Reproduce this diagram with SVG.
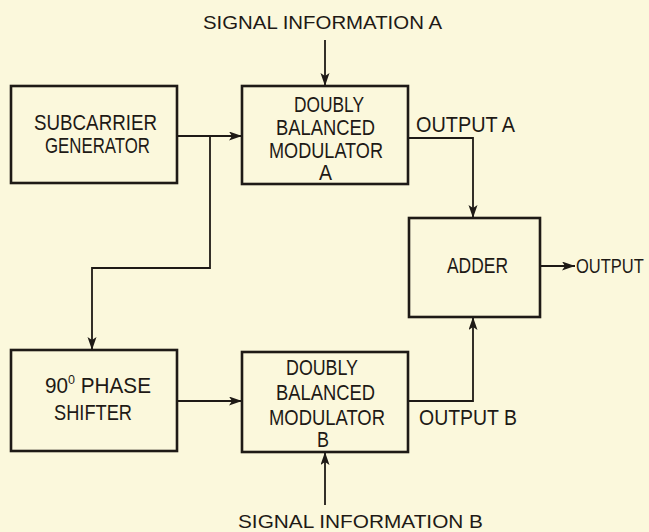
<svg xmlns="http://www.w3.org/2000/svg" width="649" height="532" viewBox="0 0 649 532">
<style>
.bg{fill:#fbf8dc}
.box{fill:none;stroke:#1e1a16;stroke-width:2.6}
.ln{fill:none;stroke:#1e1a16;stroke-width:1.8}
text{font-family:"Liberation Sans",Arial,sans-serif;font-size:21.5px;fill:#1e1a16}
.sm{font-size:19px}
</style>
<defs>
<marker id="ah" markerUnits="userSpaceOnUse" markerWidth="14" markerHeight="10" refX="13" refY="4.5" orient="auto">
<path d="M0,0 L13,4.5 L0,9 L3,4.5 z" fill="#1e1a16"/>
</marker>
</defs>
<rect class="bg" x="0" y="0" width="649" height="532"/>
<g id="connectors">
<path class="ln" d="M177,136 H242" marker-end="url(#ah)"/>
<path class="ln" d="M210,136 V268 H92 V350" marker-end="url(#ah)"/>
<path class="ln" d="M325,40 V86" marker-end="url(#ah)"/>
<path class="ln" d="M408,138 H473 V218" marker-end="url(#ah)"/>
<path class="ln" d="M540,266 H575" marker-end="url(#ah)"/>
<path class="ln" d="M177,401 H242" marker-end="url(#ah)"/>
<path class="ln" d="M408,401 H473 V317" marker-end="url(#ah)"/>
<path class="ln" d="M325,505 V452" marker-end="url(#ah)"/>
</g>
<g id="signal-a"><text class="sm" x="203" y="29" textLength="239" lengthAdjust="spacingAndGlyphs">SIGNAL INFORMATION A</text></g>
<g id="subcarrier">
<rect class="box" x="11" y="86" width="166" height="97"/>
<text x="34" y="130" textLength="123" lengthAdjust="spacingAndGlyphs">SUBCARRIER</text>
<text x="45" y="153" textLength="105" lengthAdjust="spacingAndGlyphs">GENERATOR</text>
</g>
<g id="mod-a">
<rect class="box" x="242" y="86" width="166" height="98"/>
<text x="294" y="112" textLength="70" lengthAdjust="spacingAndGlyphs">DOUBLY</text>
<text x="276" y="135" textLength="99" lengthAdjust="spacingAndGlyphs">BALANCED</text>
<text x="269" y="158" textLength="114" lengthAdjust="spacingAndGlyphs">MODULATOR</text>
<text x="319" y="180" textLength="13" lengthAdjust="spacingAndGlyphs">A</text>
</g>
<g id="output-a"><text x="416" y="132" textLength="99" lengthAdjust="spacingAndGlyphs">OUTPUT A</text></g>
<g id="adder">
<rect class="box" x="409" y="218" width="131" height="99"/>
<text x="447" y="273" textLength="61" lengthAdjust="spacingAndGlyphs">ADDER</text>
</g>
<g id="output"><text transform="translate(576,273) scale(1,1.2)" x="0" y="0" style="font-size:16.5px">OUTPUT</text></g>
<g id="phase-shifter">
<rect class="box" x="11" y="350" width="166" height="101"/>
<text x="45" y="393" textLength="106" lengthAdjust="spacingAndGlyphs">90<tspan font-size="13" dy="-9">0</tspan><tspan dy="9"> PHASE</tspan></text>
<text x="54" y="420" textLength="78" lengthAdjust="spacingAndGlyphs">SHIFTER</text>
</g>
<g id="mod-b">
<rect class="box" x="242" y="352" width="166" height="100"/>
<text x="286" y="375" textLength="72" lengthAdjust="spacingAndGlyphs">DOUBLY</text>
<text x="276" y="400" textLength="99" lengthAdjust="spacingAndGlyphs">BALANCED</text>
<text x="269" y="425" textLength="116" lengthAdjust="spacingAndGlyphs">MODULATOR</text>
<text x="317" y="447" textLength="12" lengthAdjust="spacingAndGlyphs">B</text>
</g>
<g id="output-b"><text x="419" y="425" textLength="98" lengthAdjust="spacingAndGlyphs">OUTPUT B</text></g>
<g id="signal-b"><text class="sm" x="238" y="528" textLength="245" lengthAdjust="spacingAndGlyphs">SIGNAL INFORMATION B</text></g>
</svg>
